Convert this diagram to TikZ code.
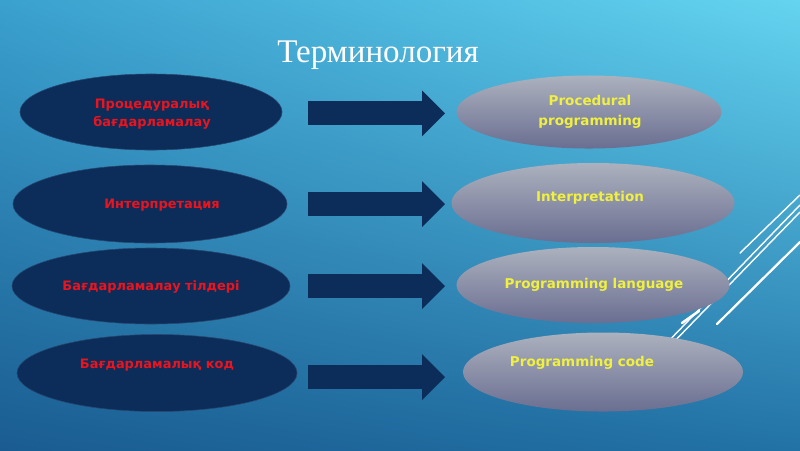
\documentclass[tikz,border=0pt]{standalone}
\usepackage{fontspec}
\setmainfont{Liberation Serif}
\newfontfamily\labelfont{DejaVu Sans}[BoldFont={DejaVu Sans Bold}]
\usetikzlibrary{shapes.geometric, arrows.meta, positioning, shadings}
\definecolor{navy}{RGB}{12,45,90}
\definecolor{navyedge}{RGB}{38,72,112}
\definecolor{greytop}{RGB}{172,177,190}
\definecolor{greybot}{RGB}{106,110,145}
\definecolor{kazred}{RGB}{235,20,30}
\definecolor{engyellow}{RGB}{240,240,62}
\definecolor{bgul}{RGB}{58,160,206}
\definecolor{bgur}{RGB}{100,212,240}
\definecolor{bgll}{RGB}{26,92,145}
\definecolor{bglr}{RGB}{34,114,166}
\tikzset{
term/.style={ellipse, fill=navy, draw=navyedge, line width=0.4pt, inner sep=0pt}, % dark ellipse on the left
trans/.style={ellipse, top color=greytop, bottom color=greybot, inner sep=0pt}, % grey ellipse on the right
kaz/.style={text=kazred, font=\labelfont\bfseries\fontsize{9.2}{12.8}\selectfont, align=center}, % red text
eng/.style={text=engyellow, font=\labelfont\bfseries\fontsize{9.6}{14.2}\selectfont, align=center}, % yellow text
blockarrow/.style={navy, line width=0.6cm, -{Triangle[width=1.15cm, length=0.575cm, line width=0pt]}}, % fat arrow
streak/.style={white, line width=1pt, line cap=round}, % white lines at the right
}

\begin{document}
\begin{tikzpicture}[x=0.025cm, y=-0.025cm]
        \useasboundingbox (0,0) rectangle (800,450);
        \shade[upper left=bgul, upper right=bgur, lower left=bgll, lower right=bglr] (0,0) rectangle (800,450);

        % white streaks behind the ellipses
        \draw[streak] (740,253) -- (800,195);
        \draw[streak] (660,350) -- (800,205);
        \draw[streak] (666,350) -- (800,212);
        \draw[streak, line width=1.8pt] (682,323) -- (699,311);
        \draw[streak, line width=1.6pt] (717,324) -- (800,242);

        \node[white, font=\fontsize{23.5}{28}\selectfont] (title) at (378,55) {Терминология};

        \node[term, minimum width=6.55cm, minimum height=1.9cm] (l1) at (151,112) {};
        \node[term, minimum width=6.85cm, minimum height=1.95cm] (l2) at (150,204) {};
        \node[term, minimum width=6.95cm, minimum height=1.9cm] (l3) at (151,286) {};
        \node[term, minimum width=7.0cm, minimum height=1.925cm] (l4) at (157,373) {};

        \node[trans, minimum width=6.625cm, minimum height=1.825cm] (r1) at (589,112) {};
        \node[trans, minimum width=7.075cm, minimum height=2.0cm] (r2) at (593,203) {};
        \node[trans, minimum width=6.825cm, minimum height=1.9cm] (r3) at (593,285) {};
        \node[trans, minimum width=7.0cm, minimum height=1.975cm] (r4) at (603,372) {};

        \node[kaz] (k1) at ([shift={(1,2)}]l1.center) {Процедуралық\\бағдарламалау};
        \node[kaz] (k2) at ([shift={(12,1)}]l2.center) {Интерпретация};
        \node[kaz] (k3) at ([shift={(0,1)}]l3.center) {Бағдарламалау тілдері};
        \node[kaz] (k4) at ([shift={(0,-8)}]l4.center) {Бағдарламалық код};

        \node[eng] (e1) at ([shift={(1,0)}]r1.center) {Procedural\\programming};
        \node[eng] (e2) at ([shift={(-3,-5)}]r2.center) {Interpretation};
        \node[eng] (e3) at ([shift={(1,0)}]r3.center) {Programming language};
        \node[eng] (e4) at ([shift={(-21,-9)}]r4.center) {Programming code};

        \coordinate (from) at (308,0);
        \coordinate (to) at (445,0);
        \draw[blockarrow] ([yshift=-1]l1.center -| from) -- ([yshift=-1]l1.center -| to);
        \draw[blockarrow] (l2.center -| from) -- (l2.center -| to);
        \draw[blockarrow] (l3.center -| from) -- (l3.center -| to);
        \draw[blockarrow] ([yshift=-3]l4.center -| from) -- ([yshift=-3]l4.center -| to);
      \end{tikzpicture}
\end{document}
